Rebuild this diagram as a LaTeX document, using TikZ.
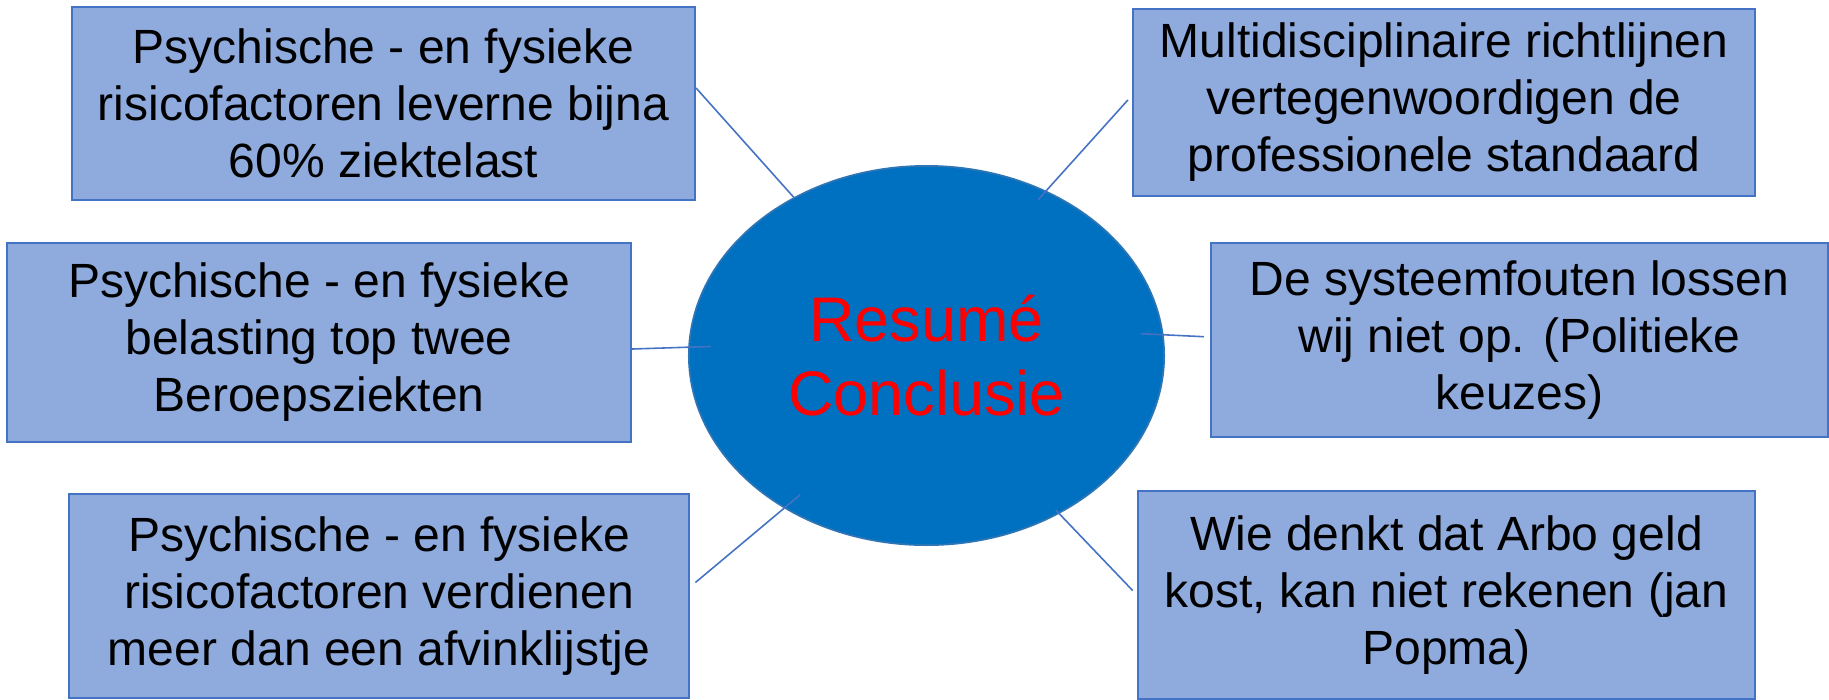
\documentclass[tikz,border=0pt]{standalone}
\usepackage{fontspec}
\setmainfont{Liberation Sans}
\usetikzlibrary{shapes.geometric}
\definecolor{boxfill}{HTML}{8FAADC}
\definecolor{boxline}{HTML}{4472C4}
\definecolor{bubble}{HTML}{0070C0}
\definecolor{bubbleline}{HTML}{2E75B6}

\begin{document}
\begin{tikzpicture}[x=0.01cm,y=-0.01cm,
    point/.style={draw=boxline,line width=0.5pt,fill=boxfill,align=center,
      inner sep=0pt,font=\fontsize{13.66pt}{16.2pt}\selectfont},
    link/.style={draw=boxline,line width=0.45pt}]
  % Canvas
  \useasboundingbox (0,0) rectangle (1829,699);
  % Central bubble
  \node[ellipse,draw=bubbleline,line width=0.5pt,fill=bubble,minimum width=4.75cm,
    minimum height=3.79cm,inner sep=0pt,text=red,align=center,
    font=\fontsize{17.9pt}{21pt}\selectfont] (c) at (926.5,355.5) {Resumé\\Conclusie};
  % Left column
  \node[point,minimum width=6.23cm,minimum height=1.93cm] (tl) at (383.5,103.5)
    {Psychische - en fysieke\\risicofactoren leverne bijna\\60\% ziektelast};
  \node[point,minimum width=6.24cm,minimum height=1.99cm] (ml) at (319,342.5)
    {Psychische - en fysieke\\belasting top twee\\Beroepsziekten};
  \node[point,minimum width=6.20cm,minimum height=2.04cm] (bl) at (379,596)
    {Psychische - en fysieke\\risicofactoren verdienen\\meer dan een afvinklijstje};
  % Right column
  \node[point,minimum width=6.22cm,minimum height=1.87cm] (tr) at (1444,102.5)
    {Multidisciplinaire richtlijnen\\vertegenwoordigen de\\professionele standaard};
  \node[point,minimum width=6.17cm,minimum height=1.94cm] (mr) at (1519.5,340)
    {De systeemfouten lossen\\wij niet op. (Politieke\\keuzes)};
  \node[point,minimum width=6.17cm,minimum height=2.08cm] (br) at (1446.5,595)
    {Wie denkt dat Arbo geld\\kost, kan niet rekenen (jan\\Popma)};
  % Connectors
  \draw[link] ([yshift=0.155cm]tl.east) -- (c.130);
  \draw[link,shorten <=0.06cm,shorten >=-0.12cm] ([yshift=0.07cm]tr.west) -- (c.54);
  \draw[link,shorten >=-0.23cm] ([yshift=-0.065cm]ml.east) -- (c.178);
  \draw[link,shorten <=-0.23cm,shorten >=0.06cm] (c.5) -- ([yshift=0.03cm]mr.west);
  \draw[link,shorten <=0.07cm,shorten >=-0.21cm] ([yshift=0.09cm]bl.east) -- (c.227);
  \draw[link,shorten <=-0.05cm,shorten >=0.06cm] (c.310) -- (br.west);
\end{tikzpicture}
\end{document}
